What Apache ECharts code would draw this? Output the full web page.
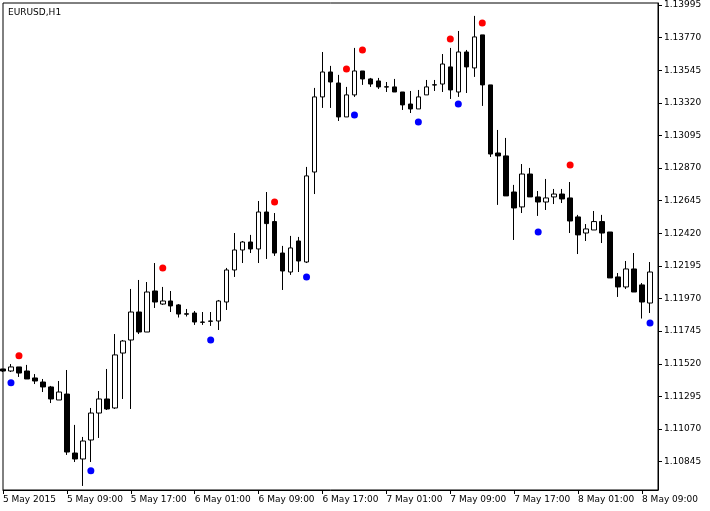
<!DOCTYPE html>
<html><head><meta charset="utf-8">
<script src="https://cdn.jsdelivr.net/npm/echarts@6/dist/echarts.min.js"></script>
<style>html,body{margin:0;padding:0;background:#fff}#c{width:710px;height:511px}</style>
</head><body><div id="c"></div>
<script>
// [open, close, low, high]
const candles = [
[1.11484,1.11470,1.11463,1.11484],[1.11470,1.11498,1.11463,1.11518],[1.11498,1.11456,1.11429,1.11498],[1.11470,1.11415,1.11415,1.11512],
[1.11422,1.11401,1.11380,1.11449],[1.11394,1.11360,1.11325,1.11415],[1.11360,1.11277,1.11249,1.11367],[1.11270,1.11325,1.11270,1.11401],
[1.11311,1.10911,1.10891,1.11477],[1.10904,1.10863,1.10842,1.11098],[1.10863,1.10987,1.10677,1.11015],[1.10994,1.11180,1.10842,1.11215],
[1.11180,1.11277,1.11008,1.11332],[1.11277,1.11208,1.11201,1.11484],[1.11215,1.11581,1.11208,1.11725],[1.11594,1.11677,1.11277,1.11684],
[1.11684,1.11877,1.11208,1.12036],[1.11877,1.11739,1.11725,1.12098],[1.11739,1.12015,1.11739,1.12084],[1.12022,1.11946,1.11905,1.12215],
[1.11932,1.11953,1.11926,1.12050],[1.11953,1.11919,1.11877,1.12022],[1.11926,1.11863,1.11839,1.11932],[1.11865,1.11862,1.11846,1.11898],
[1.11870,1.11808,1.11788,1.11884],[1.11808,1.11806,1.11788,1.11877],[1.11815,1.11813,1.11781,1.11877],[1.11815,1.11953,1.11753,1.11960],
[1.11946,1.12167,1.11891,1.12181],[1.12167,1.12305,1.12119,1.12422],[1.12305,1.12360,1.12215,1.12367],[1.12360,1.12312,1.12284,1.12409],
[1.12312,1.12567,1.12215,1.12643],[1.12567,1.12487,1.12243,1.12705],[1.12501,1.12284,1.12264,1.12560],[1.12284,1.12160,1.12029,1.12333],
[1.12153,1.12319,1.12133,1.12402],[1.12367,1.12229,1.12153,1.12395],[1.12222,1.12816,1.12215,1.12878],[1.12843,1.13361,1.12691,1.13423],
[1.13361,1.13533,1.13285,1.13671],[1.13533,1.13464,1.13285,1.13575],[1.13457,1.13223,1.13195,1.13513],[1.13223,1.13375,1.13223,1.13430],
[1.13375,1.13540,1.13361,1.13699],[1.13540,1.13485,1.13444,1.13540],[1.13485,1.13450,1.13430,1.13492],[1.13471,1.13430,1.13416,1.13492],
[1.13431,1.13429,1.13395,1.13464],[1.13430,1.13395,1.13395,1.13485],[1.13395,1.13306,1.13271,1.13395],[1.13312,1.13278,1.13250,1.13402],
[1.13278,1.13361,1.13278,1.13409],[1.13375,1.13430,1.13375,1.13478],[1.13445,1.13443,1.13402,1.13478],[1.13450,1.13588,1.13395,1.13657],
[1.13568,1.13409,1.13347,1.13699],[1.13395,1.13671,1.13361,1.13816],[1.13671,1.13568,1.13388,1.13685],[1.13561,1.13775,1.13499,1.13920],
[1.13789,1.13444,1.13299,1.13789],[1.13444,1.12967,1.12947,1.13444],[1.12974,1.12954,1.12616,1.13133],[1.12954,1.12678,1.12678,1.13078],
[1.12705,1.12595,1.12374,1.12754],[1.12602,1.12829,1.12560,1.12898],[1.12829,1.12671,1.12671,1.12871],[1.12671,1.12636,1.12540,1.12712],
[1.12636,1.12664,1.12581,1.12795],[1.12671,1.12691,1.12622,1.12726],[1.12691,1.12657,1.12629,1.12726],[1.12664,1.12505,1.12422,1.12774],
[1.12533,1.12409,1.12277,1.12547],[1.12422,1.12450,1.12367,1.12484],[1.12443,1.12501,1.12443,1.12574],[1.12501,1.12422,1.12353,1.12547],
[1.12429,1.12112,1.12112,1.12429],[1.12119,1.12050,1.11981,1.12146],[1.12050,1.12174,1.12036,1.12229],[1.12174,1.12015,1.12015,1.12284],
[1.12064,1.11946,1.11832,1.12077],[1.11939,1.12153,1.11870,1.12222]
];
const upFractals = [[2,1.11576],[20,1.12181],[34,1.12636],[43,1.13554],[45,1.13685],[56,1.13761],[60,1.13871],[71,1.12892]];
const downFractals = [[1,1.11389],[11,1.10782],[26,1.11684],[38,1.12119],[44,1.13237],[52,1.13188],[57,1.13312],[67,1.12429],[81,1.11801]];
const timeLabels = ['5 May 2015','5 May 09:00','5 May 17:00','6 May 01:00','6 May 09:00','6 May 17:00','7 May 01:00','7 May 09:00','7 May 17:00','8 May 01:00','8 May 09:00'];
const priceTicks = [1.10845,1.11070,1.11295,1.11520,1.11745,1.11970,1.12195,1.12420,1.12645,1.12870,1.13095,1.13320,1.13545,1.13770,1.13995];

const cats = [];
for (let i = 0; i <= candles.length; i++) cats.push(String(i));
const chart = echarts.init(document.getElementById('c'), null, {renderer:'canvas'});
const F = 'DejaVu Sans';
chart.setOption({
  animation:false,
  backgroundColor:'#fff',
  title:{text:'EURUSD,H1',left:3,top:3,textStyle:{fontFamily:F,fontSize:9,fontWeight:'normal',color:'#000'}},
  grid:{left:3,right:52,top:3,bottom:21,show:true,borderColor:'#000',borderWidth:1},
  xAxis:{type:'category',data:cats,boundaryGap:false,
    axisLine:{lineStyle:{color:'#000'}},
    axisTick:{interval:7,length:4,lineStyle:{color:'#000'}},
    axisLabel:{interval:7,align:'left',margin:5,fontFamily:F,fontSize:9,color:'#000',
      formatter:(v,i)=> (i%8===0 && timeLabels[i/8]) ? timeLabels[i/8] : ''},
    splitLine:{show:false}},
  yAxis:{type:'value',position:'right',min:1.10649,max:1.14009,scale:true,
    axisLine:{show:true,lineStyle:{color:'#000'}},
    axisTick:{show:true,length:4,customValues:priceTicks,lineStyle:{color:'#000'}},
    axisLabel:{customValues:priceTicks,margin:6,fontFamily:F,fontSize:9,color:'#000',formatter:v=>v.toFixed(5)},
    splitLine:{show:false}},
  series:[
    {type:'candlestick',data:candles,barWidth:5,clip:true,
     itemStyle:{color:'#fff',color0:'#000',borderColor:'#000',borderColor0:'#000',borderWidth:1}},
    {type:'scatter',data:upFractals,symbolSize:7,itemStyle:{color:'#ff0000',opacity:1}},
    {type:'scatter',data:downFractals,symbolSize:7,itemStyle:{color:'#0000ff',opacity:1}}
  ]
});
</script></body></html>
